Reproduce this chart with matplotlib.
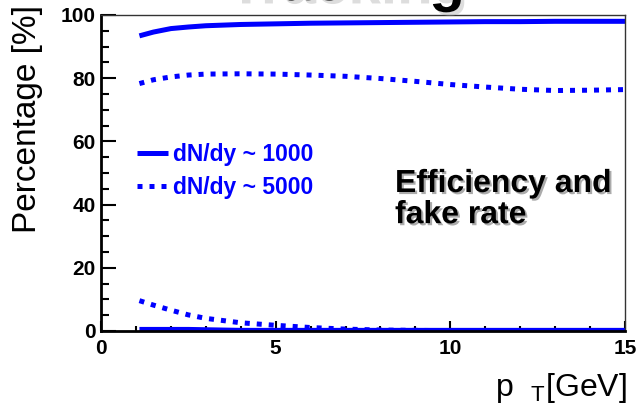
import numpy as np
import matplotlib.pyplot as plt
import matplotlib.patheffects as pe
from matplotlib.ticker import MultipleLocator

plt.rcParams['font.family'] = ['Liberation Sans', 'DejaVu Sans']
plt.rcParams['mathtext.fontset'] = 'custom'
plt.rcParams['mathtext.rm'] = 'Liberation Sans'
plt.rcParams['mathtext.default'] = 'regular'

# pT bin centres [GeV]
pt = [1.1, 1.5, 2.0, 2.5, 3.0, 4.0, 5.0, 6.0, 7.0, 8.0, 9.0, 10.0, 11.0, 12.0, 13.0, 14.0, 15.0]

# efficiency [%]
eff_1000 = [93.4, 94.6, 95.7, 96.2, 96.6, 97.0, 97.2, 97.4, 97.5, 97.6, 97.7, 97.8, 97.9, 97.9, 98.0, 98.0, 98.0]
eff_5000 = [78.3, 79.5, 80.4, 81.0, 81.3, 81.4, 81.3, 81.0, 80.6, 79.9, 79.0, 78.0, 77.2, 76.5, 76.1, 76.2, 76.4]

# fake rate [%]
fake_1000 = [0.5, 0.5, 0.5, 0.5, 0.4, 0.2, 0.2, 0.2, 0.2, 0.2, 0.2, 0.2, 0.2, 0.2, 0.2, 0.2, 0.2]
fake_5000 = [9.6, 8.2, 6.6, 5.1, 4.0, 2.6, 1.8, 1.1, 0.6, 0.3, 0.2, 0.1, 0.1, 0.1, 0.1, 0.1, 0.1]

labels = ['dN/dy ~ 1000', 'dN/dy ~ 5000']

blue = (0, 0, 1)
dotted = (0, (1.0, 1.4))

fig = plt.figure(figsize=(6.41, 4.07), dpi=100)
ax = fig.add_axes([101 / 641, 1 - 331 / 407, 524 / 641, 316 / 407])

ax.plot(pt, eff_1000, color=blue, lw=3.6, solid_capstyle='butt', label=labels[0])
ax.plot(pt, eff_5000, color=blue, lw=3.6, ls=dotted, dash_capstyle='butt', label=labels[1])
ax.plot(pt, fake_1000, color=blue, lw=3.6, solid_capstyle='butt')
ax.plot(pt, fake_5000, color=blue, lw=3.6, ls=dotted, dash_capstyle='butt')

ax.set_xlim(0, 15)
ax.set_ylim(0, 100)
ax.xaxis.set_major_locator(MultipleLocator(5))
ax.xaxis.set_minor_locator(MultipleLocator(1))
ax.yaxis.set_major_locator(MultipleLocator(20))
ax.yaxis.set_minor_locator(MultipleLocator(5))

# ROOT-style ticks: inside, only on bottom/left
ax.tick_params(axis='both', which='both', direction='in', width=1.5, top=False, right=False)
ax.tick_params(axis='y', which='major', length=11, pad=4)
ax.tick_params(axis='y', which='minor', length=5.5)
ax.tick_params(axis='x', which='major', length=7, pad=6)
ax.tick_params(axis='x', which='minor', length=3.5)
for lab in ax.get_xticklabels() + ax.get_yticklabels():
    lab.set_fontweight('bold')
    lab.set_fontsize(15)

for side in ('left', 'bottom'):
    ax.spines[side].set_linewidth(2)
for side in ('top', 'right'):
    ax.spines[side].set_linewidth(1)
    ax.spines[side].set_color('#333333')

leg = ax.legend(loc='upper left', bbox_to_anchor=(0.069, 0.595), frameon=False,
                fontsize=16.5, handlelength=1.35, handletextpad=0.22,
                labelspacing=0.45, borderpad=0, borderaxespad=0)
for t in leg.get_texts():
    t.set_color(blue)
    t.set_fontweight('bold')

shadow = [pe.withSimplePatchShadow(offset=(1.5, -1.5), shadow_rgbFace='#888888', alpha=0.7)]
fig.text(395 / 641, 1 - 169 / 407, 'Efficiency and\nfake rate', fontsize=23,
         fontweight='bold', ha='left', va='top', linespacing=1.05,
         path_effects=shadow)

fig.text(28 / 641, 1 - 5 / 407, 'Percentage [%]', rotation=90, fontsize=24,
         ha='center', va='top')
fig.text(627 / 641, 1 - 396 / 407, r'p  $_{T}$[GeV]', fontsize=23,
         ha='right', va='baseline')

# slide heading, mostly above the top edge
fig.text(345 / 641, 1.0, 'Tracking', fontsize=42, fontweight='bold',
         ha='center', va='baseline',
         path_effects=[pe.withSimplePatchShadow(offset=(2.5, -2.5), shadow_rgbFace='#aaaaaa', alpha=0.4)])

fig.savefig('out.png', dpi=100)
